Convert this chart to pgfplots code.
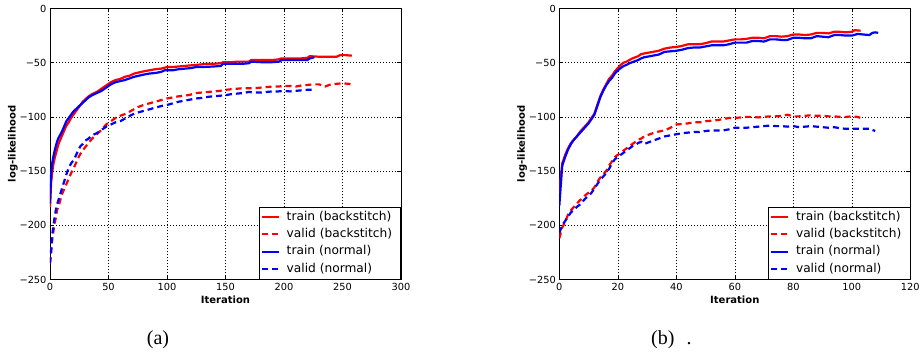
\documentclass[border=0pt]{standalone}
\usepackage{fontspec}
\setmainfont{DejaVu Sans}
\newfontfamily\capfont{Liberation Serif}
\usepackage{pgfplots}
\pgfplotsset{compat=1.18}
\definecolor{mred}{RGB}{255,0,0}
\definecolor{mblue}{RGB}{0,0,255}
\pgfplotsset{
  mystyle/.style={
    scale only axis,
    width=351pt, height=271pt,
    ymin=-250, ymax=0,
    ytick={-250,-200,-150,-100,-50,0},
    yticklabels={−250,−200,−150,−100,−50,0},
    /pgf/number format/assume math mode=true,
    tick align=inside,
    major tick length=4pt,
    minor tick num=0,
    tick style={black, line width=0.6pt},
    axis line style={black, line width=0.8pt},
    grid=major,
    major grid style={black, line width=0.5pt, dash pattern=on 1pt off 2pt},
    ticklabel style={font=\fontsize{9.8}{11}\selectfont},
    label style={font=\fontsize{10}{12}\selectfont\bfseries},
    xlabel={Iteration},
    ylabel={log-likelihood},
    xlabel style={at={(axis description cs:0.5,-0.0757)}, anchor=center},
    ylabel style={at={(axis description cs:-0.106,0.5)}, anchor=center},
    legend cell align=left,
    legend style={at={(1,0)}, anchor=south east, draw=black, line width=0.8pt, fill=white,
      font=\fontsize{12.2}{13}\selectfont, inner xsep=2pt, inner ysep=1.2pt, row sep=0pt,
      nodes={inner xsep=6.5pt, inner ysep=2.6pt, text height=9.2pt, text depth=3pt}},
    every axis plot/.append style={line width=2.2pt},
  },
  dsh/.style={dash pattern=on 6pt off 4pt},
}
\begin{document}
\begin{tikzpicture}[x=1pt,y=1pt]
\useasboundingbox (0,0) rectangle (920,352);
\begin{axis}[mystyle, at={(50pt,72.5pt)}, anchor=south west,
  xmin=0, xmax=300, xtick={0,50,100,150,200,250,300}]
\addplot[mred] coordinates {
(0,-183) (1,-160) (2,-150) (3,-143) (4,-138) (5,-134) (6,-130) (7,-126) (8,-123) (10,-118)
(12,-113) (14,-108) (16,-105) (18,-101) (20,-98) (22,-95) (24,-92) (26,-89) (28,-86) (30,-84)
(33,-81) (36,-79) (40,-77) (44,-74) (48,-71) (52,-68) (56,-66) (60,-65) (64,-63) (68,-62)
(72,-60) (76,-59) (80,-58) (85,-57) (90,-56) (95,-55.5) (100,-54) (105,-54) (110,-53.5) (115,-53)
(120,-52.5) (125,-52) (130,-51.5) (135,-51) (140,-51) (146,-50.5) (148,-49.5) (155,-49.5) (160,-49)
(165,-49) (170,-49) (172,-47.5) (180,-47.5) (190,-47.5) (195,-47) (198,-46) (205,-46) (215,-46)
(220,-45.5) (222,-44) (230,-44.5) (240,-44.5) (245,-44.5) (248,-43) (252,-43) (258,-43.5)
};
\addlegendentry{train (backstitch)}
\addplot[mred, dsh] coordinates {
(0,-235) (1,-225) (2,-212) (3,-205) (4,-198) (5,-193) (6,-186) (8,-180) (10,-172) (12,-167)
(14,-162) (16,-157) (18,-152) (20,-148) (22,-143) (24,-138) (26,-134) (28,-131) (30,-128) (33,-124)
(36,-120) (40,-116) (44,-112) (48,-107) (52,-104) (56,-101) (60,-99) (65,-97) (70,-94) (75,-91)
(80,-89) (85,-87.5) (90,-86) (95,-84.5) (100,-83) (105,-82) (110,-81) (115,-80.5) (120,-79.5)
(125,-78) (130,-77.5) (135,-77) (140,-76.5) (145,-76) (150,-75) (155,-74.5) (160,-74) (165,-73.5)
(170,-73.5) (175,-73.5) (180,-73) (185,-72.5) (190,-72) (195,-72) (200,-71.5) (205,-71.5) (210,-72)
(215,-71) (220,-70.5) (225,-70) (230,-70) (235,-72) (240,-70) (245,-69.5) (250,-69) (255,-69.5) (258,-70)
};
\addlegendentry{valid (backstitch)}
\addplot[mblue] coordinates {
(0,-180) (1,-152) (2,-142) (3,-136) (4,-131) (5,-127) (6,-123) (7,-120) (8,-118) (10,-114)
(12,-109) (14,-104) (16,-101) (18,-98) (20,-95) (22,-93) (24,-91) (26,-89) (28,-87) (30,-85)
(33,-82) (36,-80) (40,-78) (44,-76) (48,-73) (52,-70) (56,-68) (60,-67) (64,-66) (68,-64.5)
(72,-63) (76,-62) (80,-61) (85,-60) (90,-59.5) (95,-58.5) (98,-57) (105,-57) (110,-56) (120,-55)
(125,-54) (130,-54) (140,-53.5) (146,-53) (148,-51) (155,-51) (165,-51) (170,-50.5) (172,-49)
(180,-49.5) (190,-49.5) (196,-49) (198,-47.5) (205,-47.5) (215,-47.5) (220,-47.5) (222,-46) (226,-45)
};
\addlegendentry{train (normal)}
\addplot[mblue, dsh] coordinates {
(0,-235) (1,-222) (2,-208) (3,-200) (4,-192) (5,-186) (6,-181) (8,-174) (10,-167) (12,-160)
(14,-153) (16,-147) (18,-143) (20,-140) (22,-136) (24,-131) (26,-127) (28,-125) (30,-122) (33,-120)
(36,-117) (40,-115) (44,-112) (48,-109) (52,-107) (56,-105) (60,-104) (65,-101) (70,-98) (75,-96)
(80,-94.5) (85,-93) (90,-91.5) (95,-90) (100,-89) (105,-87.5) (110,-86) (115,-85) (120,-84)
(125,-83) (130,-82.5) (135,-81.5) (140,-81) (145,-80.5) (150,-80) (155,-79) (160,-78.5) (165,-78)
(170,-77) (175,-77.5) (180,-77.5) (185,-77) (190,-76.5) (195,-76.5) (200,-76) (205,-76.5) (210,-76)
(215,-75.5) (220,-75) (226,-75)
};
\addlegendentry{valid (normal)}
\end{axis}
\begin{axis}[mystyle, at={(559.3pt,72.5pt)}, anchor=south west,
  xmin=0, xmax=120, xtick={0,20,40,60,80,100,120}]
\addplot[mred] coordinates {
(0,-170) (1,-143) (2,-135) (3,-129) (4,-124) (5,-121) (6,-118) (7,-114) (8,-111) (9,-108)
(10,-105) (11,-101) (12,-97) (13,-89) (14,-81) (15,-75) (16,-70) (17,-65) (18,-62) (19,-58)
(20,-55) (21,-52) (22,-50) (23,-49) (24,-47.5) (25,-46) (26,-45) (27,-44) (28,-42) (29,-41.5)
(30,-41) (32,-40) (34,-39) (36,-37) (38,-36) (40,-35.5) (42,-34.5) (44,-33) (46,-33) (48,-33)
(50,-32) (52,-30.5) (54,-30.5) (56,-30.5) (58,-29.5) (60,-28.5) (62,-28.5) (64,-28) (66,-27)
(68,-27) (70,-27.5) (72,-25.5) (74,-25.5) (76,-26) (78,-25.5) (80,-24) (82,-24) (84,-24.5)
(86,-24) (88,-22.5) (90,-22.5) (92,-23) (94,-21.5) (96,-21.5) (98,-22) (100,-21.5) (101,-20) (103,-20.5)
};
\addlegendentry{train (backstitch)}
\addplot[mred, dsh] coordinates {
(0,-212) (1,-202) (2,-197) (3,-190) (4,-186) (5,-183) (6,-180) (7,-177) (8,-175) (9,-172)
(10,-170) (11,-168) (12,-165) (13,-160) (14,-156) (15,-153) (16,-150) (17,-145) (18,-141) (19,-137)
(20,-135) (21,-133) (22,-131) (23,-129) (24,-127) (25,-125) (26,-123) (27,-121) (28,-120) (29,-118)
(30,-117) (32,-115) (34,-113.5) (36,-112.5) (38,-110) (40,-107) (42,-106.5) (44,-106) (46,-105)
(48,-105) (50,-104) (52,-103.5) (54,-103) (56,-102) (58,-101) (60,-101) (62,-100.5) (64,-100)
(66,-100) (68,-100.5) (70,-100) (72,-99.5) (74,-99.5) (76,-99) (78,-98) (80,-99.5) (82,-99.5)
(84,-99) (86,-98.5) (88,-99) (90,-99) (92,-99.5) (94,-99.5) (96,-100) (98,-100) (100,-99.5) (102,-100) (103,-101)
};
\addlegendentry{valid (backstitch)}
\addplot[mblue] coordinates {
(0,-182) (1,-145) (2,-137) (3,-130) (4,-125) (5,-121) (6,-118) (7,-115) (8,-112) (9,-109)
(10,-106) (11,-102) (12,-98) (13,-90) (14,-82) (15,-76) (16,-71) (17,-67) (18,-64) (19,-60)
(20,-57) (21,-55) (22,-53) (23,-52) (24,-50.5) (25,-49.5) (26,-48.5) (27,-47.5) (28,-46) (29,-45)
(30,-44.5) (32,-43.5) (34,-42.5) (36,-40) (38,-39.5) (40,-39) (42,-38) (44,-36.5) (46,-36) (48,-36)
(50,-35) (52,-34) (54,-34) (56,-34) (58,-33) (60,-31.5) (62,-31.5) (64,-31.5) (66,-30) (68,-30)
(70,-30.5) (72,-28.5) (74,-28.5) (76,-29) (78,-29) (80,-27) (82,-27) (84,-27.5) (86,-27.5) (88,-25.5)
(90,-26) (92,-26.5) (94,-24.5) (96,-24.5) (98,-25) (100,-25) (102,-23.5) (104,-24) (106,-24.5)
(107,-22.5) (108,-22) (109,-22.5)
};
\addlegendentry{train (normal)}
\addplot[mblue, dsh] coordinates {
(0,-207) (1,-200) (2,-196) (3,-192) (4,-188) (5,-186) (6,-183) (7,-181) (8,-178) (9,-175)
(10,-173) (11,-170) (12,-166) (13,-162) (14,-158) (15,-155) (16,-152) (17,-148) (18,-143) (19,-139)
(20,-137) (21,-135) (22,-133) (23,-131) (24,-129) (25,-127) (26,-126) (27,-124) (28,-123) (29,-125)
(30,-124) (32,-122) (34,-120) (36,-118) (38,-117) (40,-116) (42,-115) (44,-114.5) (46,-114) (48,-114)
(50,-113) (52,-112.5) (54,-112.5) (56,-112.5) (58,-111.5) (60,-110) (62,-110) (64,-110) (66,-109.5)
(68,-109) (70,-108.5) (72,-108) (74,-108.5) (76,-108.5) (78,-109) (80,-108.5) (82,-109.5) (84,-109)
(86,-108.5) (88,-109) (90,-109.5) (92,-110) (94,-109.5) (96,-110.5) (98,-111) (100,-111) (102,-111)
(104,-111) (106,-111) (107,-112) (108,-113)
};
\addlegendentry{valid (normal)}
\end{axis}
\node[font=\capfont\fontsize{20}{24}\selectfont, anchor=center] at (158,12) {(a)};
\node[font=\capfont\fontsize{20}{24}\selectfont, anchor=west, inner sep=0pt] at (651,12) {(b)\hspace{0.6em}.};
\end{tikzpicture}
\end{document}
